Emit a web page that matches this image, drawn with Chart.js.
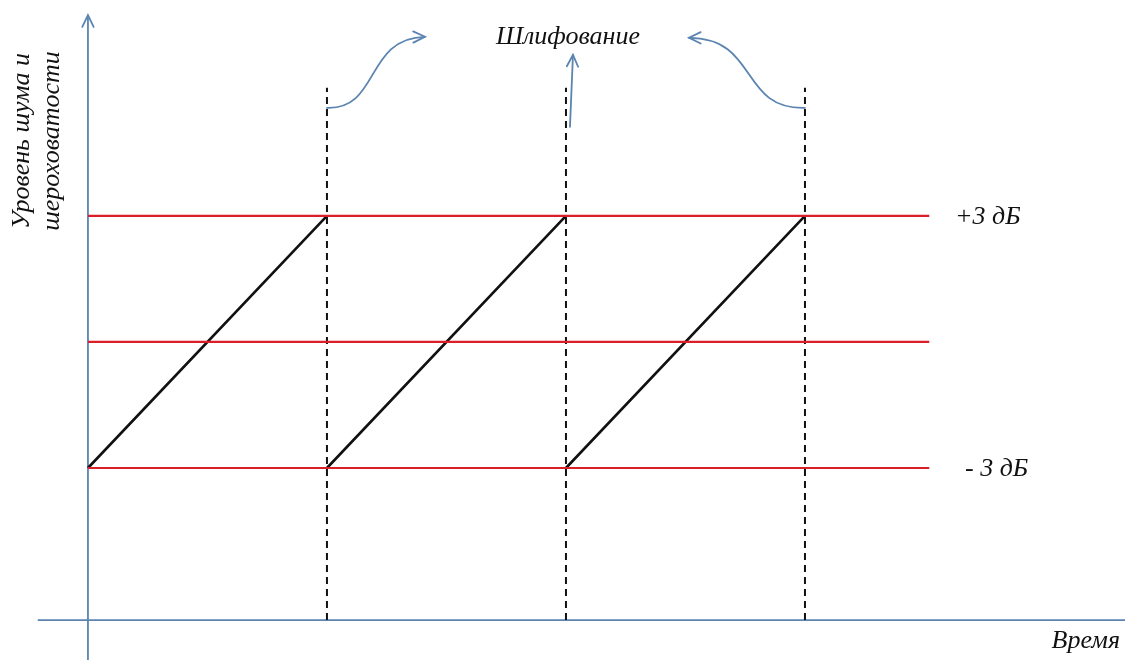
<!DOCTYPE html>
<html>
<head>
<meta charset="utf-8">
<script src="https://cdn.jsdelivr.net/npm/chart.js@4.4.0/dist/chart.umd.min.js"></script>
<style>
html,body{margin:0;padding:0;background:#fff;}
#wrap{width:1125px;height:660px;}
</style>
</head>
<body>
<div id="wrap"><canvas id="c" width="1125" height="660"></canvas></div>
<script>
// ---- data ----
const grindTimes = [1, 2, 3];                 // moments of grinding (cycle ends)
const cycleStarts = [0, 1, 2];                // cycle starts
const levelLow = -3;                          // dB
const levelMid = 0;
const levelHigh = 3;
const levelLines = [3, 0, -3];                // red reference levels, dB
const redLineEnd = 3.52;                      // time where red lines end
const dashTop = 6.05;                         // top of dashed markers, dB
const axisY = -6.62;                          // level of the time axis
const axisXStart = -0.21;
const yAxisTop = 7.78;
const levelLabels = ['+3 дБ', '- 3 дБ'];
const topLabel = 'Шлифование';
const xTitle = 'Время';
const yTitle = ['Уровень шума и', 'шероховатости'];

const AXIS = '#5b84b1';
const RED = '#d9202a';

// sawtooth segments
const saw = [];
cycleStarts.forEach((s, i) => {
  saw.push({x: s, y: levelLow});
  saw.push({x: grindTimes[i], y: levelHigh});
  if (i < cycleStarts.length - 1) saw.push({x: s + 1, y: null});
});

const datasets = [];
levelLines.forEach(v => datasets.push({
  data: [{x: 0, y: v}, {x: redLineEnd, y: v}],
  borderColor: RED, borderWidth: 2.2, pointRadius: 0
}));
grindTimes.forEach(t => datasets.push({
  data: [{x: t, y: axisY}, {x: t, y: dashTop}],
  borderColor: '#111', borderWidth: 2, borderDash: [7, 5], pointRadius: 0
}));
datasets.push({data: saw, borderColor: '#111', borderWidth: 2.6, pointRadius: 0, spanGaps: false});
// axes
datasets.push({data: [{x: axisXStart, y: axisY}, {x: 4.339, y: axisY}], borderColor: AXIS, borderWidth: 1.8, pointRadius: 0});
datasets.push({data: [{x: 0, y: -7.57}, {x: 0, y: yAxisTop}], borderColor: AXIS, borderWidth: 1.8, pointRadius: 0});

function head(ctx, x, y, ang, len) {
  ctx.beginPath();
  ctx.moveTo(x + len * Math.cos(ang + Math.PI - 0.45), y + len * Math.sin(ang + Math.PI - 0.45));
  ctx.lineTo(x, y);
  ctx.lineTo(x + len * Math.cos(ang + Math.PI + 0.45), y + len * Math.sin(ang + Math.PI + 0.45));
  ctx.stroke();
}

const decor = {
  id: 'decor',
  afterDatasetsDraw(chart) {
    const ctx = chart.ctx, xs = chart.scales.x, ys = chart.scales.y;
    ctx.save();
    ctx.strokeStyle = AXIS; ctx.lineWidth = 1.8; ctx.lineCap = 'round';
    // y axis arrowhead
    head(ctx, xs.getPixelForValue(0), ys.getPixelForValue(yAxisTop), -Math.PI / 2, 13);
    // curved arrows
    const topY = ys.getPixelForValue(dashTop) + 20;
    const lx = xs.getPixelForValue(grindTimes[0]);
    ctx.beginPath();
    ctx.moveTo(lx, topY);
    ctx.bezierCurveTo(lx + 53, topY + 2, lx + 38, topY - 70, lx + 98, topY - 71);
    ctx.stroke();
    head(ctx, lx + 98, topY - 71, Math.atan2(-1, 60), 13);
    const rx = xs.getPixelForValue(grindTimes[2]);
    ctx.beginPath();
    ctx.moveTo(rx, topY);
    ctx.bezierCurveTo(rx - 66, topY + 2, rx - 46, topY - 70, rx - 116, topY - 70);
    ctx.stroke();
    head(ctx, rx - 116, topY - 70, Math.PI, 13);
    const mx = xs.getPixelForValue(grindTimes[1]);
    ctx.beginPath();
    ctx.moveTo(mx + 4, topY + 19);
    ctx.lineTo(mx + 7, topY - 53);
    ctx.stroke();
    head(ctx, mx + 7, topY - 53, Math.atan2(-72, 3), 13);
    // texts
    ctx.fillStyle = '#111';
    ctx.font = 'italic 26px "Liberation Serif", "DejaVu Serif", serif';
    ctx.textBaseline = 'middle';
    ctx.textAlign = 'center';
    ctx.fillText(topLabel, mx + 2, 37);
    ctx.textAlign = 'left';
    ctx.fillText(levelLabels[0], 955, ys.getPixelForValue(levelHigh) + 1);
    ctx.fillText(levelLabels[1], 965, ys.getPixelForValue(levelLow) + 1);
    ctx.textAlign = 'right';
    ctx.fillText(xTitle, 1120, 641);
    ctx.save();
    ctx.translate(22, 141);
    ctx.rotate(-Math.PI / 2);
    ctx.textAlign = 'center';
    ctx.fillText(yTitle[0], 0, 0);
    ctx.fillText(yTitle[1], 0, 30);
    ctx.restore();
    ctx.restore();
  }
};

new Chart(document.getElementById('c'), {
  type: 'line',
  data: {datasets},
  options: {
    responsive: false,
    animation: false,
    events: [],
    layout: {padding: 0},
    plugins: {legend: {display: false}, tooltip: {enabled: false}},
    scales: {
      x: {type: 'linear', display: false, min: -0.368, max: 4.339},
      y: {type: 'linear', display: false, min: -7.57, max: 8.14}
    }
  },
  plugins: [decor]
});
</script>
</body>
</html>
